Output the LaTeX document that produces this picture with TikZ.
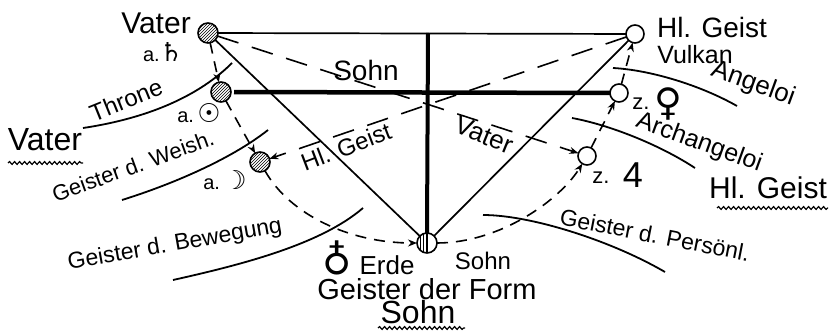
\documentclass[tikz,border=0pt]{standalone}
\usepackage{fontspec}
\setmainfont{Liberation Sans}
\newfontfamily\symf{DejaVu Sans}
\newcommand\myfs[1]{\fontsize{#1}{#1}\selectfont}
\usetikzlibrary{patterns,arrows.meta,decorations.pathmorphing}
\begin{document}
\begin{tikzpicture}[x=1pt,y=-1pt,
  every node/.style={inner sep=0pt, outer sep=0pt},
  hatchc/.style={circle, draw, line width=1.6pt, minimum size=20pt, pattern=north east lines},
  openc/.style={circle, draw, line width=1.6pt, minimum size=18pt, fill=white},
  ln/.style={line width=1.7pt},
  bar/.style={line width=4.5pt},
  dashl/.style={line width=1.6pt, dash pattern=on 22pt off 14pt},
  dashs/.style={line width=1.6pt, dash pattern=on 11pt off 8pt},
  arr/.style={-{Stealth[length=9pt,width=7pt]}},
  sphere/.style={line width=1.8pt},
  wave/.style={line width=1.2pt, decorate, decoration={snake, amplitude=1.4pt, segment length=5pt}},
]
\useasboundingbox (0,0) rectangle (829,336);

% spheres (arcs)
\draw[sphere] (83,128) .. controls (150,118) and (200,95) .. (232,63);
\draw[sphere] (122,200) .. controls (170,185) and (230,160) .. (268,130);
\draw[sphere] (173,280) .. controls (240,265) and (320,245) .. (363,208);
\draw[sphere] (613,68) .. controls (650,70) and (700,85) .. (737,106);
\draw[sphere] (572,118) .. controls (610,125) and (660,145) .. (695,168);
\draw[sphere] (483,215) .. controls (530,215) and (610,240) .. (665,272);

% circles
\node[hatchc] (vater) at (208,33) {};
\node[hatchc] (c2) at (221,92) {};
\node[hatchc] (moon) at (260,162) {};
\node[circle, draw, line width=1.6pt, minimum size=20pt] (sohn) at (427,243) {};
\begin{scope}
  \clip (427,243) circle (10pt);
  \fill[pattern=vertical lines] (416,232) rectangle (427,254);
  \draw[line width=1.2pt] (427,232) -- (427,254);
\end{scope}
\node[openc] (geist) at (635,34) {};
\node[openc] (venus) at (619,93) {};
\node[openc] (jup) at (587,156) {};

% solid lines
\coordinate (vtop) at (428,33);
\draw[ln] (vater) -- (geist);
\draw[bar, line width=4pt] (vtop) -- (sohn.north);
\draw[bar, shorten <=3pt] (c2.east) -- (venus.west);
\draw[ln] (vater) -- (sohn);
\draw[ln] (geist) -- (sohn);

% dashed connectors
\draw[dashl, arr] (vater) -- (jup);
\draw[dashl, arr] (geist) -- (moon);
\draw[dashs, arr] (vater) -- (c2);
\draw[dashs, arr] (c2) -- (moon);
\draw[dashs, arr] (moon) .. controls (290,215) and (350,243) .. (sohn);
\draw[dashs, arr] (sohn) .. controls (500,243) and (560,200) .. (jup);
\draw[dashs, arr] (jup) -- (venus);
\draw[dashs, arr] (venus) -- (geist);

% labels
\node[font=\myfs{30}] (tVater) at (156,23) {Vater};
\node[font=\myfs{20}] (tSat) at (163,52) {a.{\symf\myfs{26}♄}};
\node[rotate=22, font=\myfs{24}] (tThrone) at (126,100) {Throne};
\node[font=\myfs{20}] (tSun) at (199,113) {a.\,{\symf\myfs{26}☉}};
\node[font=\myfs{32}] (tVaterL) at (45,140) {Vater};
\draw[wave] (8,163) -- (83,163);
\node[rotate=20, font=\myfs{22}] (tWeish) at (133,166) {Geister d. Weish.};
\node[font=\myfs{20}] (tMoon) at (225,180) {a.\,{\symf\myfs{26}☽}};
\node[rotate=21, font=\myfs{24}] (tGeistM) at (346,147) {Hl. Geist};
\node[font=\myfs{28}] (tSohnT) at (366,70) {Sohn};
\node[rotate=-22, font=\myfs{26}] (tVaterM) at (484,135) {Vater};
\node[font=\myfs{28}] (tGeistT) at (712,27) {Hl. Geist};
\node[font=\myfs{25}] (tVulkan) at (695,55) {Vulkan};
\node[rotate=-20, font=\myfs{26}] (tAngeloi) at (753,84) {Angeloi};
\node[font=\myfs{22}] (tVenusZ) at (641,104) {z.};
\node[font=\symf\myfs{38}] (tVenus) at (668,104) {♀};
\node[rotate=-20, font=\myfs{25}] (tArch) at (699,143) {Archangeloi};
\node[font=\myfs{22}] (tJupZ) at (601,178) {z.};
\node[font=\myfs{36}] (tJup) at (633,175) {4};
\node[font=\myfs{30}] (tGeistR) at (768,188) {Hl. Geist};
\draw[wave] (717,208) -- (828,208);
\node[rotate=-11, font=\myfs{23}] (tPers) at (655,235) {Geister d. Persönl.};
\node[rotate=10, font=\myfs{23}] (tBew) at (175,245) {Geister d. Bewegung};
\node[font=\symf\myfs{40}] (earth) at (337,258) {♁};
\node[font=\myfs{26}] (tErde) at (387,265) {Erde};
\node[font=\myfs{24}] (tSohnN) at (483,261) {Sohn};
\node[font=\myfs{29}] (tForm) at (427,289) {Geister der Form};
\node[font=\myfs{32}] (tSohnB) at (418,312) {Sohn};
\draw[wave] (378,328) -- (465,328);
\end{tikzpicture}
\end{document}
